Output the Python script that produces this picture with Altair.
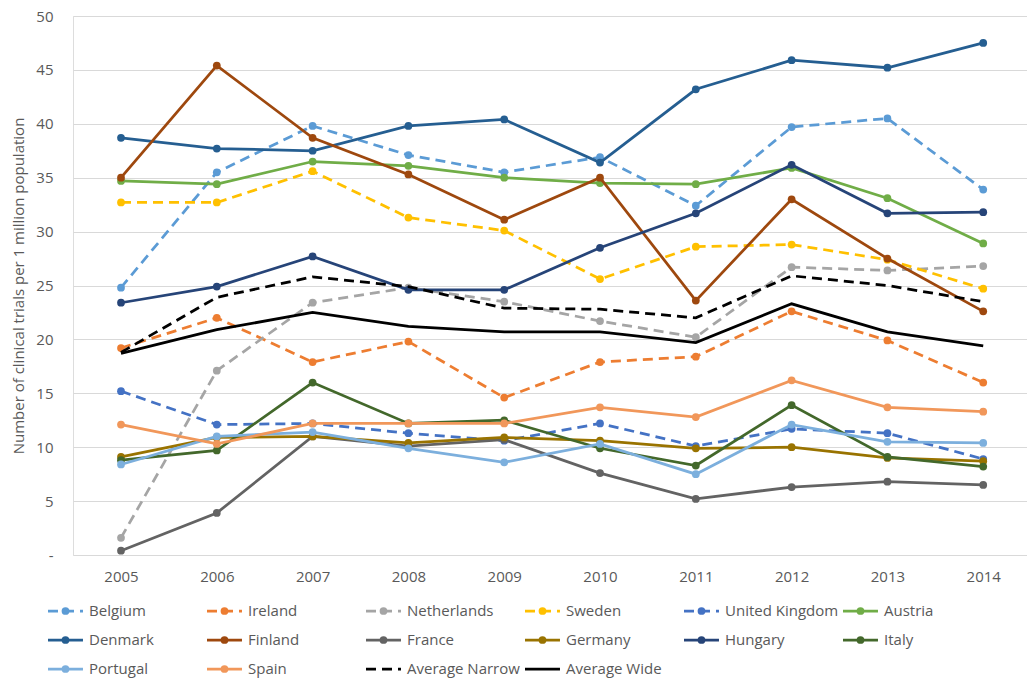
import altair as alt
import pandas as pd

# ---- data -------------------------------------------------------------
years = ["2005", "2006", "2007", "2008", "2009", "2010", "2011", "2012", "2013", "2014"]

belgium = [24.8, 35.5, 39.8, 37.1, 35.5, 36.9, 32.4, 39.7, 40.5, 33.9]
ireland = [19.2, 22.0, 17.9, 19.8, 14.6, 17.9, 18.4, 22.6, 19.9, 16.0]
netherlands = [1.6, 17.1, 23.4, 24.8, 23.5, 21.7, 20.2, 26.7, 26.4, 26.8]
sweden = [32.7, 32.7, 35.6, 31.3, 30.1, 25.6, 28.6, 28.8, 27.4, 24.7]
united_kingdom = [15.2, 12.1, 12.2, 11.3, 10.6, 12.2, 10.1, 11.7, 11.3, 8.9]
austria = [34.7, 34.4, 36.5, 36.1, 35.0, 34.5, 34.4, 35.9, 33.1, 28.9]
denmark = [38.7, 37.7, 37.5, 39.8, 40.4, 36.4, 43.2, 45.9, 45.2, 47.5]
finland = [35.0, 45.4, 38.7, 35.3, 31.1, 35.0, 23.6, 33.0, 27.5, 22.6]
france = [0.4, 3.9, 11.0, 10.1, 10.7, 7.6, 5.2, 6.3, 6.8, 6.5]
germany = [9.1, 10.9, 11.0, 10.4, 10.9, 10.6, 9.9, 10.0, 9.0, 8.7]
hungary = [23.4, 24.9, 27.7, 24.6, 24.6, 28.5, 31.7, 36.2, 31.7, 31.8]
italy = [8.8, 9.7, 16.0, 12.2, 12.5, 9.9, 8.3, 13.9, 9.1, 8.2]
portugal = [8.4, 11.0, 11.4, 9.9, 8.6, 10.3, 7.5, 12.1, 10.5, 10.4]
spain = [12.1, 10.3, 12.2, 12.2, 12.2, 13.7, 12.8, 16.2, 13.7, 13.3]
average_narrow = [18.8, 23.9, 25.8, 24.9, 22.9, 22.8, 22.0, 25.9, 25.0, 23.5]
average_wide = [18.7, 20.9, 22.5, 21.2, 20.7, 20.7, 19.7, 23.3, 20.7, 19.4]

series_names = [
    "Belgium", "Ireland", "Netherlands", "Sweden", "United Kingdom", "Austria",
    "Denmark", "Finland", "France", "Germany", "Hungary", "Italy",
    "Portugal", "Spain", "Average Narrow", "Average Wide",
]
series_values = [
    belgium, ireland, netherlands, sweden, united_kingdom, austria,
    denmark, finland, france, germany, hungary, italy,
    portugal, spain, average_narrow, average_wide,
]

# ---- styling ----------------------------------------------------------
colors = {
    "Belgium": "#5B9BD5", "Ireland": "#ED7D31", "Netherlands": "#A5A5A5",
    "Sweden": "#FFC000", "United Kingdom": "#4472C4", "Austria": "#70AD47",
    "Denmark": "#255E91", "Finland": "#9E480E", "France": "#636363",
    "Germany": "#997300", "Hungary": "#264478", "Italy": "#43682B",
    "Portugal": "#7CAFDD", "Spain": "#F1975A",
    "Average Narrow": "#000000", "Average Wide": "#000000",
}
dashed_series = {"Belgium", "Ireland", "Netherlands", "Sweden", "United Kingdom", "Average Narrow"}
no_marker_series = {"Average Narrow", "Average Wide"}

FONT = "Open Sans"
TEXT = "#595959"
GRID = "#D9D9D9"
LINE_W = 2.75
DASH = [10, 6]
DOT = 60

records = [
    {"Year": yr, "Series": name, "Value": v}
    for name, vals in zip(series_names, series_values)
    for yr, v in zip(years, vals)
]
df = pd.DataFrame(records)

x_enc = alt.X(
    "Year:O",
    scale=alt.Scale(type="point", padding=0.479, align=0.523),
    axis=alt.Axis(title=None, labelAngle=0, ticks=False, domain=False, grid=False,
                  labelPadding=14, labelFontSize=15, labelColor=TEXT, labelFont=FONT),
)
y_enc = alt.Y(
    "Value:Q",
    scale=alt.Scale(domain=[0, 50], nice=False),
    axis=alt.Axis(
        values=list(range(0, 51, 5)),
        labelExpr="datum.value == 0 ? '-' : datum.label",
        title="Number of clinical trials per 1 million population",
        titleFont=FONT, titleFontSize=15, titleFontWeight="normal", titleColor=TEXT,
        titlePadding=9,
        labelFont=FONT, labelFontSize=15, labelColor=TEXT, labelPadding=20,
        ticks=False, domain=False, grid=True, gridColor=GRID, gridWidth=1,
    ),
)

# one line (+ markers) per series, drawn in series order
plot_layers = []
for name in series_names:
    base = alt.Chart(df).transform_filter(alt.datum.Series == name).encode(x=x_enc, y=y_enc)
    line_style = dict(color=colors[name], strokeWidth=LINE_W)
    if name in dashed_series:
        line_style["strokeDash"] = DASH
    plot_layers.append(base.mark_line(**line_style))
    if name not in no_marker_series:
        plot_layers.append(base.mark_circle(color=colors[name], size=DOT, opacity=1))
plot = alt.layer(*plot_layers)

# ---- legend: 6 columns x 3 rows below the plot -------------------------
n_cols = 6
legend_df = pd.DataFrame({
    "Series": series_names,
    "col": [i % n_cols for i in range(len(series_names))],
    "row": [i // n_cols for i in range(len(series_names))],
    "dashed": [n in dashed_series for n in series_names],
    "marker": [n not in no_marker_series for n in series_names],
})
leg_x_scale = alt.Scale(domain=[0, n_cols], range=[-25, 929])
leg_y = alt.Y("row:Q", scale=alt.Scale(domain=[0, 2], range=[595, 653]), axis=None)
leg_color = alt.Color(
    "Series:N",
    scale=alt.Scale(domain=series_names, range=[colors[n] for n in series_names]),
    legend=None,
)
leg_base = alt.Chart(legend_df).encode(y=leg_y)
seg = leg_base.transform_calculate(x_end="datum.col + 0.22").encode(
    x=alt.X("col:Q", scale=leg_x_scale, axis=None), x2="x_end:Q", color=leg_color
)
seg_solid = seg.transform_filter("!datum.dashed").mark_rule(strokeWidth=LINE_W)
seg_dash = seg.transform_filter("datum.dashed").mark_rule(strokeWidth=LINE_W, strokeDash=DASH)
seg_dot = (
    leg_base.transform_filter("datum.marker")
    .transform_calculate(xc="datum.col + 0.11")
    .encode(x=alt.X("xc:Q", scale=leg_x_scale, axis=None), color=leg_color)
    .mark_circle(size=DOT, opacity=1)
)
seg_text = (
    leg_base.transform_calculate(xt="datum.col + 0.258")
    .encode(x=alt.X("xt:Q", scale=leg_x_scale, axis=None), text="Series:N")
    .mark_text(align="left", baseline="middle", font=FONT, fontSize=15, color=TEXT)
)
legend = alt.layer(seg_solid, seg_dash, seg_dot, seg_text)

chart = (
    alt.layer(plot, legend)
    .resolve_scale(x="independent", y="independent")
    .properties(
        width=954,
        height=539,
        padding={"left": 73, "top": 16, "right": 0, "bottom": 124},
        autosize=alt.AutoSizeParams(type="none"),
    )
    .configure_view(stroke=None)
    .configure(background="white")
)

chart.save("out.html", embed_options={"renderer": "svg", "actions": False})
